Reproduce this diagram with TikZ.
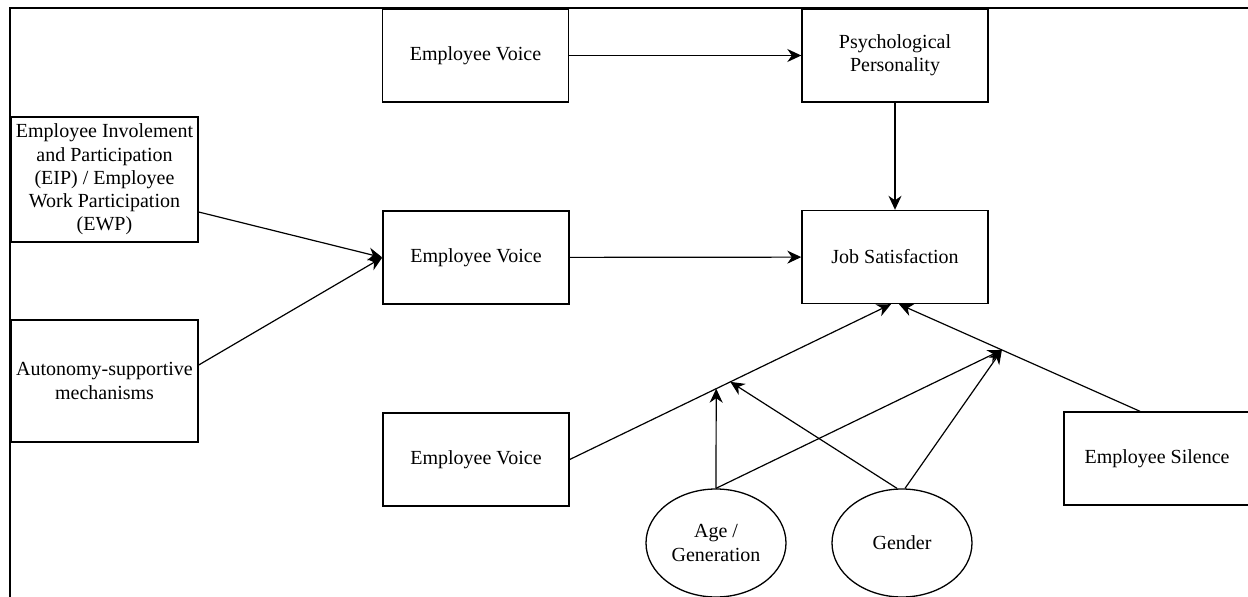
\documentclass[tikz,border=0pt]{standalone}
\usepackage{fontspec}
\setmainfont{Liberation Serif}
\usetikzlibrary{arrows.meta,positioning,calc,shapes.geometric}

\begin{document}
\begin{tikzpicture}[
    x=1pt, y=-1pt,
    >={Stealth[length=14pt,width=13pt,inset=4.5pt]},
    font=\rmfamily\fontsize{20}{23.3}\selectfont,
    box/.style={draw, line width=1.4pt, minimum width=186pt, minimum height=93pt, inner sep=0pt, align=center},
    trait/.style={draw, ellipse, line width=1.3pt, minimum width=140pt, minimum height=108pt, inner sep=0pt, align=center},
    link/.style={->, line width=1.2pt},
    frame/.style={line width=1.8pt}
]
    \useasboundingbox (0,0) rectangle (1248,597);

    % outer frame (cut off at right and bottom)
    \draw[frame] (10,640) -- (10,8) -- (1270,8);

    % antecedents
    \node[box, minimum width=187pt, minimum height=125pt] (eip) at (104.5,179.5)
        {Employee Involement\\and Participation\\(EIP) / Employee\\Work Participation\\(EWP)};
    \node[box, minimum width=187pt, minimum height=122pt] (auto) at (104.5,381)
        {Autonomy-supportive\\mechanisms};

    % voice boxes
    \node[box] (ev1) at (475.5,55.5) {Employee Voice};
    \node[box] (ev2) at (476,257.5) {Employee Voice};
    \node[box] (ev3) at (476,459.5) {Employee Voice};

    % outcomes
    \node[box] (psych) at (895,55.5) {Psychological\\Personality};
    \node[box] (js) at (895,257) {Job Satisfaction};
    \node[box] (sil) at (1157,458.5) {Employee Silence};

    % moderators
    \node[trait] (age) at (716,543) {Age /\\Generation};
    \node[trait] (gen) at (902,543) {Gender};

    % main paths
    \draw[link] (ev1) -- (psych);
    \draw[link] (psych) -- (js);
    \draw[link] (ev2) -- (js);
    \draw[link] ([yshift=-32.5pt]eip.east) -- (ev2.west);
    \draw[link] ([yshift=16pt]auto.east) -- (ev2.west);
    \draw[link] (ev3.east) -- ([xshift=-4pt]js.south);
    \draw[link] ([xshift=-17pt]sil.north) -- ([xshift=4pt]js.south);

    % moderation targets on the paths
    \coordinate (pA) at ($(ev3.east)!0.456!([xshift=-4pt]js.south)$);
    \coordinate (pG) at ($(ev3.east)!0.5!([xshift=-4pt]js.south)$);
    \coordinate (pS) at ($([xshift=-17pt]sil.north)!0.573!([xshift=4pt]js.south)$);

    \draw[link] (age.north) -- (pA);
    \draw[link] (age.north) -- (pS);
    \draw[link] ([xshift=-5pt]gen.north) -- (pG);
    \draw[link] ([xshift=3pt]gen.north) -- (pS);
\end{tikzpicture}
\end{document}
